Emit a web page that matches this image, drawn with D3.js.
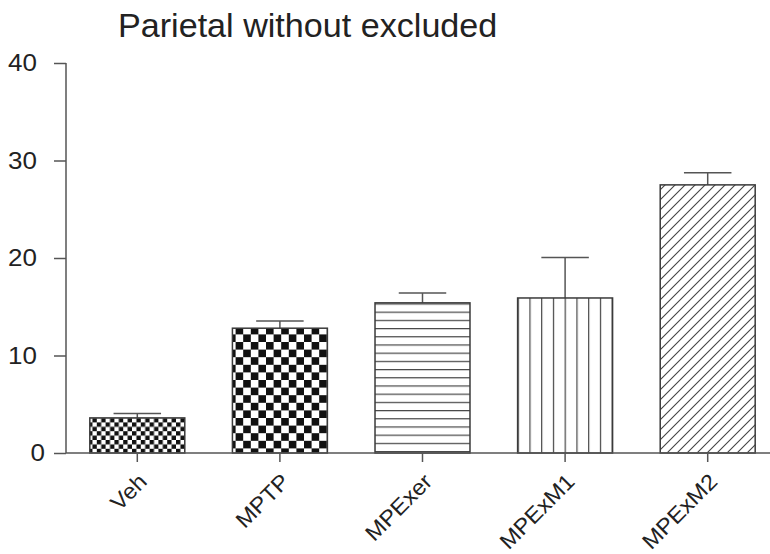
<!DOCTYPE html>
<html>
<head>
<meta charset="utf-8">
<script src="https://cdn.jsdelivr.net/npm/d3@7"></script>
<style>
  html, body { margin: 0; padding: 0; background: #fff; }
  svg { display: block; }
  text { font-family: "Liberation Sans", Arial, sans-serif; fill: #222; }
</style>
</head>
<body>
<svg id="chart" width="770" height="554"></svg>
<script>
const title = "Parietal without excluded";
const categories = ["Veh", "MPTP", "MPExer", "MPExM1", "MPExM2"];
const means = [3.6, 12.8, 15.4, 15.9, 27.5];
const errors = [0.45, 0.75, 1.0, 4.15, 1.25];
const yTicks = [0, 10, 20, 30, 40];
const patterns = ["fineChecker", "checker", "hLines", "vLines", "diag"];

const svg = d3.select("#chart");
const axisColor = "#555";
const barStroke = "#3a3a3a";

const x = d3.scaleBand().domain(categories).range([66, 779]).paddingInner(0.334).paddingOuter(0.167);
const y = d3.scaleLinear().domain([0, 40]).range([453, 63]);

// patterns
const defs = svg.append("defs");
function addChecker(id, c, col) {
  const p = defs.append("pattern").attr("id", id).attr("patternUnits", "userSpaceOnUse")
    .attr("width", 2 * c).attr("height", 2 * c);
  p.append("rect").attr("width", 2 * c).attr("height", 2 * c).attr("fill", "#fff");
  p.append("rect").attr("x", 0).attr("y", 0).attr("width", c).attr("height", c).attr("fill", col);
  p.append("rect").attr("x", c).attr("y", c).attr("width", c).attr("height", c).attr("fill", col);
}
addChecker("fineChecker", 4.4, "#111");
addChecker("checker", 7.6, "#111");
{
  const p = defs.append("pattern").attr("id", "hLines").attr("patternUnits", "userSpaceOnUse")
    .attr("width", 10).attr("height", 8.2);
  p.append("rect").attr("width", 10).attr("height", 8.2).attr("fill", "#fff");
  p.append("line").attr("x1", 0).attr("x2", 10).attr("y1", 0.6).attr("y2", 0.6)
    .attr("stroke", "#444").attr("stroke-width", 1.2);
}
{
  const p = defs.append("pattern").attr("id", "vLines").attr("patternUnits", "userSpaceOnUse")
    .attr("width", 11.75).attr("height", 10).attr("x", x("MPExM1"));
  p.append("rect").attr("width", 11.75).attr("height", 10).attr("fill", "#fff");
  p.append("line").attr("x1", 0.6).attr("x2", 0.6).attr("y1", 0).attr("y2", 10)
    .attr("stroke", "#444").attr("stroke-width", 1.2);
}
{
  const s = 10;
  const p = defs.append("pattern").attr("id", "diag").attr("patternUnits", "userSpaceOnUse")
    .attr("width", s).attr("height", s);
  p.append("rect").attr("width", s).attr("height", s).attr("fill", "#fff");
  p.append("path").attr("d", `M0,${s} L${s},0 M${-s/2},${s/2} L${s/2},${-s/2} M${s/2},${s*1.5} L${s*1.5},${s/2}`)
    .attr("stroke", "#444").attr("stroke-width", 1.1);
}

// title
svg.append("text").attr("transform", "translate(118,37) scale(1.05,1)").attr("font-size", 32.5).text(title);

// bars
const g = svg.append("g");
categories.forEach((c, i) => {
  const bx = x(c), bw = x.bandwidth();
  const top = y(means[i]);
  const cx = bx + bw / 2;
  g.append("line").attr("x1", cx).attr("x2", cx).attr("y1", top).attr("y2", y(means[i] + errors[i]))
    .attr("stroke", axisColor).attr("stroke-width", 1.5);
  g.append("line").attr("x1", cx - bw / 4).attr("x2", cx + bw / 4)
    .attr("y1", y(means[i] + errors[i])).attr("y2", y(means[i] + errors[i]))
    .attr("stroke", axisColor).attr("stroke-width", 1.5);
  g.append("rect").attr("x", bx).attr("y", top).attr("width", bw).attr("height", y(0) - top)
    .attr("fill", `url(#${patterns[i]})`).attr("stroke", barStroke).attr("stroke-width", 1.5);
});

// y axis
const yAxis = svg.append("g").attr("transform", "translate(66,0)")
  .call(d3.axisLeft(y).tickValues(yTicks).tickSize(12).tickPadding(17));
yAxis.select(".domain").attr("stroke", axisColor).attr("stroke-width", 1.5).attr("d", `M0,${y(40)}V${y(0)}`);
yAxis.selectAll(".tick line").attr("stroke", axisColor).attr("stroke-width", 1.5);
yAxis.selectAll(".tick text").attr("font-size", 23).attr("fill", "#222")
  .attr("font-family", '"Liberation Sans", Arial, sans-serif')
  .attr("x", null).attr("dy", "0.34em")
  .attr("transform", d => `translate(${d === 0 ? -21 : -29},0) scale(1.13,1)`);

// x axis
const xAxis = svg.append("g").attr("transform", `translate(0,${y(0)})`)
  .call(d3.axisBottom(x).tickSize(9).tickFormat(""));
xAxis.select(".domain").attr("stroke", axisColor).attr("stroke-width", 1.5).attr("d", "M66,0H770");
xAxis.selectAll(".tick line").attr("stroke", axisColor).attr("stroke-width", 1.5);

svg.append("g").selectAll("text").data(categories).join("text")
  .attr("font-size", 22)
  .attr("text-anchor", "end")
  .attr("transform", d => `translate(${x(d) + x.bandwidth() / 2 + 11},${y(0) + 30}) rotate(-45) scale(1.07,1)`)
  .text(d => d);
</script>
</body>
</html>
